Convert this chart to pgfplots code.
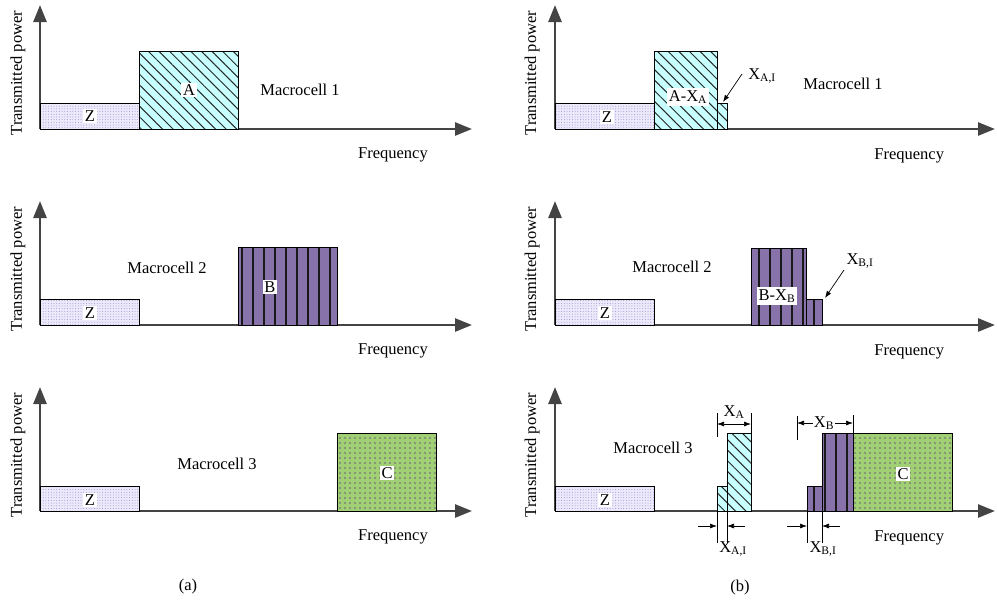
\documentclass[border=0pt]{standalone}
\usepackage{pgfplots}
\pgfplotsset{compat=1.18}
\usepackage{fontspec}
\setmainfont{Liberation Serif}
\usetikzlibrary{arrows.meta,patterns.meta}

\definecolor{zfill}{RGB}{236,234,250}
\definecolor{zdot}{RGB}{160,145,212}
\definecolor{afill}{RGB}{200,255,255}
\definecolor{bfill}{RGB}{135,115,170}
\definecolor{cfill}{RGB}{160,208,115}
\definecolor{cdot}{RGB}{125,130,120}
\definecolor{axisgray}{RGB}{68,68,68}

\tikzset{
  zbar/.style={draw=black, line width=1pt, fill=zfill, postaction={pattern={Dots[distance=2.7pt, radius=0.5pt]}, pattern color=zdot}},
  abar/.style={draw=black, line width=1pt, fill=afill, postaction={pattern={Lines[angle=-45, distance=7.5pt, line width=1pt]}, pattern color=black!85}},
  bbar/.style={draw=black, line width=1pt, fill=bfill, postaction={pattern={Lines[angle=90, distance=11pt, line width=1.6pt]}, pattern color=black!90}},
  cbar/.style={draw=black, line width=1pt, fill=cfill, postaction={pattern={Dots[distance=5pt, radius=1.2pt]}, pattern color=cdot}},
  lab/.style={fill=white, inner sep=1.8pt},
  dim/.style={black, line width=0.7pt},
}

\pgfplotsset{
  panel/.style={
    scale only axis, clip=false,
    axis lines=left,
    xtick=\empty, ytick=\empty,
    xmin=0, ymin=0, ymax=124, height=124pt,
    axis line style={line width=2.6pt, draw=axisgray, -{Triangle[length=17pt,width=13pt]}},
    xlabel={Frequency}, ylabel={Transmitted power},
  },
  panelA/.style={panel, xmax=432, width=432pt,
    every axis x label/.style={at={(axis description cs:0.817,-0.21)}, anchor=center},
    every axis y label/.style={at={(axis description cs:-0.051,0.45)}, rotate=90, anchor=center}},
  panelB/.style={panel, xmax=440, width=440pt,
    every axis x label/.style={at={(axis description cs:0.805,-0.215)}, anchor=center},
    every axis y label/.style={at={(axis description cs:-0.052,0.45)}, rotate=90, anchor=center}},
}

\begin{document}
\fontsize{16.5}{19}\selectfont
\begin{tikzpicture}
\path[use as bounding box] (0,0) rectangle (997pt,-603pt);

% ---------------- (a) row 1
\begin{axis}[panelA, at={(40pt,-129pt)}, anchor=south west]
\addplot[zbar] coordinates {(0,0)(0,26)(99,26)(99,0)} \closedcycle;
\addplot[abar] coordinates {(99,0)(99,78)(198,78)(198,0)} \closedcycle;
\node[lab] at (axis cs:50,13) {Z};
\node[lab] at (axis cs:149,39) {A};
\node at (axis cs:260,39) {Macrocell 1};
\end{axis}

% ---------------- (a) row 2
\begin{axis}[panelA, at={(40pt,-325pt)}, anchor=south west]
\addplot[zbar] coordinates {(0,0)(0,26)(99,26)(99,0)} \closedcycle;
\addplot[bbar] coordinates {(198,0)(198,78)(297,78)(297,0)} \closedcycle;
\node[lab] at (axis cs:50,12) {Z};
\node[lab] at (axis cs:230,38) {B};
\node at (axis cs:127,57) {Macrocell 2};
\end{axis}

% ---------------- (a) row 3
\begin{axis}[panelA, at={(40pt,-511pt)}, anchor=south west]
\addplot[zbar] coordinates {(0,0)(0,25)(99,25)(99,0)} \closedcycle;
\addplot[cbar] coordinates {(297,0)(297,78)(396,78)(396,0)} \closedcycle;
\node[lab] at (axis cs:50,11) {Z};
\node[lab] at (axis cs:347,38) {C};
\node at (axis cs:177,47) {Macrocell 3};
\node at (axis cs:148,-76) {(a)};
\end{axis}

% ---------------- (b) row 1
\begin{axis}[panelB, at={(555pt,-129pt)}, anchor=south west]
\addplot[zbar] coordinates {(0,0)(0,26)(99,26)(99,0)} \closedcycle;
\addplot[abar] coordinates {(99,0)(99,78)(162,78)(162,0)} \closedcycle;
\addplot[abar] coordinates {(162,0)(162,26)(172,26)(172,0)} \closedcycle;
\node[lab] at (axis cs:52,12) {Z};
\node[lab] at (axis cs:133,32) {A-X\textsubscript{A}};
\node at (axis cs:207,53) {X\textsubscript{A,I}};
\addplot[dim, -{Latex[length=7pt,width=5pt]}] coordinates {(187,55)(168,27)};
\node at (axis cs:288,45) {Macrocell 1};
\end{axis}

% ---------------- (b) row 2
\begin{axis}[panelB, at={(555pt,-325pt)}, anchor=south west]
\addplot[zbar] coordinates {(0,0)(0,26)(99,26)(99,0)} \closedcycle;
\addplot[bbar] coordinates {(196,0)(196,77)(251,77)(251,0)} \closedcycle;
\addplot[bbar] coordinates {(251,0)(251,26)(267,26)(267,0)} \closedcycle;
\node[lab] at (axis cs:50,12) {Z};
\node[lab] at (axis cs:222,29) {B-X\textsubscript{B}};
\node at (axis cs:305,64) {X\textsubscript{B,I}};
\addplot[dim, -{Latex[length=7pt,width=5pt]}] coordinates {(289,55)(270,27)};
\node at (axis cs:117,58) {Macrocell 2};
\end{axis}

% ---------------- (b) row 3
\begin{axis}[panelB, at={(555pt,-511pt)}, anchor=south west]
\addplot[zbar] coordinates {(0,0)(0,25)(99,25)(99,0)} \closedcycle;
\addplot[abar] coordinates {(162,0)(162,25)(172,25)(172,0)} \closedcycle;
\addplot[abar] coordinates {(172,0)(172,78)(196,78)(196,0)} \closedcycle;
\addplot[bbar] coordinates {(252,0)(252,25)(267,25)(267,0)} \closedcycle;
\addplot[bbar] coordinates {(267,0)(267,78)(298,78)(298,0)} \closedcycle;
\addplot[cbar] coordinates {(298,0)(298,78)(397,78)(397,0)} \closedcycle;
\node[lab] at (axis cs:50,11) {Z};
\node[lab] at (axis cs:348,37) {C};
\node at (axis cs:98,63) {Macrocell 3};
% X_A dimension
\addplot[dim] coordinates {(162,74)(162,98)};
\addplot[dim] coordinates {(196,78)(196,98)};
\addplot[dim, {Latex[length=7pt,width=5pt]}-{Latex[length=7pt,width=5pt]}] coordinates {(162,87)(196,87)};
\node at (axis cs:179,99) {X\textsubscript{A}};
% X_B dimension
\addplot[dim] coordinates {(242,71)(242,95)};
\addplot[dim] coordinates {(298,78)(298,96)};
\addplot[dim, {Latex[length=7pt,width=5pt]}-{Latex[length=7pt,width=5pt]}] coordinates {(242,88)(298,88)};
\node[fill=white, inner sep=1pt] at (axis cs:269,88) {X\textsubscript{B}};
% X_A,I dimension
\addplot[dim] coordinates {(162,0)(162,-32)};
\addplot[dim] coordinates {(172,0)(172,-32)};
\addplot[dim, -{Latex[length=7pt,width=5pt]}] coordinates {(143,-15)(162,-15)};
\addplot[dim, -{Latex[length=7pt,width=5pt]}] coordinates {(190,-15)(172,-15)};
\node at (axis cs:178,-38) {X\textsubscript{A,I}};
% X_B,I dimension
\addplot[dim] coordinates {(252,0)(252,-32)};
\addplot[dim] coordinates {(267,0)(267,-32)};
\addplot[dim, -{Latex[length=7pt,width=5pt]}] coordinates {(232,-15)(252,-15)};
\addplot[dim, -{Latex[length=7pt,width=5pt]}] coordinates {(285,-15)(267,-15)};
\node at (axis cs:268,-38) {X\textsubscript{B,I}};
\node at (axis cs:185,-77) {(b)};
\end{axis}
\end{tikzpicture}
\end{document}
